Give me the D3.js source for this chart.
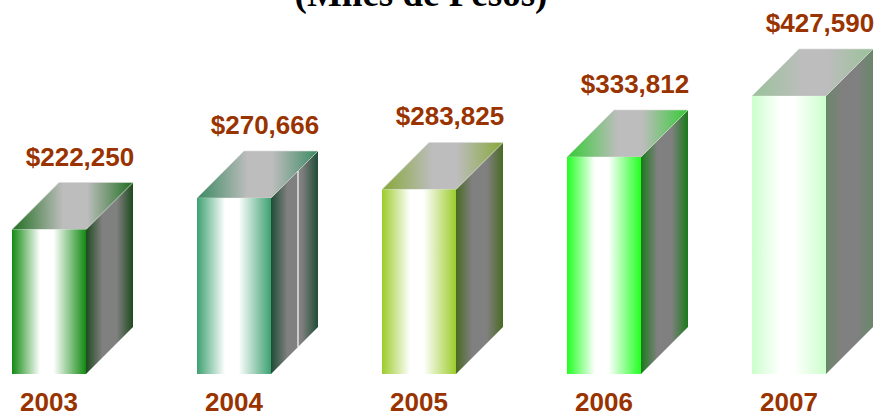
<!DOCTYPE html>
<html>
<head>
<meta charset="utf-8">
<script src="https://cdn.jsdelivr.net/npm/d3@7"></script>
<style>
  html, body { margin: 0; padding: 0; background: #fff; overflow: hidden; }
  svg { display: block; }
</style>
</head>
<body>
<svg id="chart" width="874" height="414"></svg>
<script>
// data
var years = ['2003', '2004', '2005', '2006', '2007'];
var values = [222250, 270666, 283825, 333812, 427590];
var labels = ['$222,250', '$270,666', '$283,825', '$333,812', '$427,590'];

// colours per bar: front edge, side edge, top edge
var frontCol = ['#128a12', '#3da172', '#9ccc2c', '#22ff22', '#ccffcc'];
var sideCol = ['#1e4a1e', '#1f4d36', '#4a6a22', '#1a7a1a', '#6a876a'];
var topCol = ['#206e20', '#3a8a62', '#86a838', '#33cc33', '#99c299'];

var svg = d3.select('#chart');
var depth = 47;

var x = d3.scaleBand().domain(years).range([12, 826]).paddingInner(0.6).paddingOuter(0).align(0);
var y = d3.scaleLinear().domain([0, 427590]).range([374, 96]);

var defs = svg.append('defs');
// edge -> mid plateau -> edge
function grad(id, edge, mid, a, b) {
  var g = defs.append('linearGradient').attr('id', id)
    .attr('x1', 0).attr('y1', 0).attr('x2', 1).attr('y2', 0);
  g.append('stop').attr('offset', 0).attr('stop-color', edge);
  g.append('stop').attr('offset', a).attr('stop-color', mid);
  g.append('stop').attr('offset', b).attr('stop-color', mid);
  g.append('stop').attr('offset', 1).attr('stop-color', edge);
}
years.forEach(function(yr, i) {
  grad('front' + i, frontCol[i], '#ffffff', 0.38, 0.56);
  grad('side' + i, sideCol[i], '#808080', 0.35, 0.65);
  grad('top' + i, topCol[i], '#bdbdbd', 0.42, 0.62);
});

// title (cut off at the top)
svg.append('text')
  .attr('x', 421).attr('y', 6)
  .attr('text-anchor', 'middle')
  .attr('font-family', '"Liberation Serif", "Times New Roman", serif')
  .attr('font-weight', 'bold').attr('font-size', 37)
  .text('(Miles de Pesos)');

var bars = svg.selectAll('g.bar').data(years).join('g').attr('class', 'bar');

// side face
bars.append('path')
  .attr('fill', function(d, i) { return 'url(#side' + i + ')'; })
  .attr('d', function(d, i) {
    var xr = x(d) + x.bandwidth(), yt = y(values[i]), yb = y(0);
    return 'M' + xr + ',' + yt + 'L' + (xr + depth) + ',' + (yt - depth) +
      'L' + (xr + depth) + ',' + (yb - depth) + 'L' + xr + ',' + yb + 'Z';
  });

// top face
bars.append('path')
  .attr('fill', function(d, i) { return 'url(#top' + i + ')'; })
  .attr('stroke', '#d8d8d8').attr('stroke-width', 0.6)
  .attr('d', function(d, i) {
    var xl = x(d), xr = xl + x.bandwidth(), yt = y(values[i]);
    return 'M' + xl + ',' + yt + 'L' + (xl + depth) + ',' + (yt - depth) +
      'L' + (xr + depth) + ',' + (yt - depth) + 'L' + xr + ',' + yt + 'Z';
  });

// front face
bars.append('rect')
  .attr('x', function(d) { return x(d); })
  .attr('y', function(d, i) { return y(values[i]); })
  .attr('width', x.bandwidth())
  .attr('height', function(d, i) { return y(0) - y(values[i]); })
  .attr('fill', function(d, i) { return 'url(#front' + i + ')'; });

// the odd white line on the 2004 side face
svg.append('line')
  .attr('x1', x('2004') + x.bandwidth() + 27).attr('x2', x('2004') + x.bandwidth() + 27)
  .attr('y1', y(values[1]) - 27).attr('y2', y(0) - 27)
  .attr('stroke', '#ffffff').attr('stroke-width', 1.2);

// value labels
svg.selectAll('text.val').data(years).join('text').attr('class', 'val')
  .attr('x', function(d) { return x(d) + 68; })
  .attr('y', function(d, i) { return y(values[i]) - depth - 17; })
  .attr('text-anchor', 'middle')
  .attr('font-family', '"Liberation Sans", Arial, sans-serif')
  .attr('font-weight', 'bold').attr('font-size', 26)
  .attr('fill', '#993300')
  .text(function(d, i) { return labels[i]; });

// year labels
svg.selectAll('text.yr').data(years).join('text').attr('class', 'yr')
  .attr('x', function(d) { return x(d) + x.bandwidth() / 2; })
  .attr('y', 411)
  .attr('text-anchor', 'middle')
  .attr('font-family', '"Liberation Sans", Arial, sans-serif')
  .attr('font-weight', 'bold').attr('font-size', 26)
  .attr('fill', '#993300')
  .text(function(d) { return d; });
</script>
</body>
</html>
